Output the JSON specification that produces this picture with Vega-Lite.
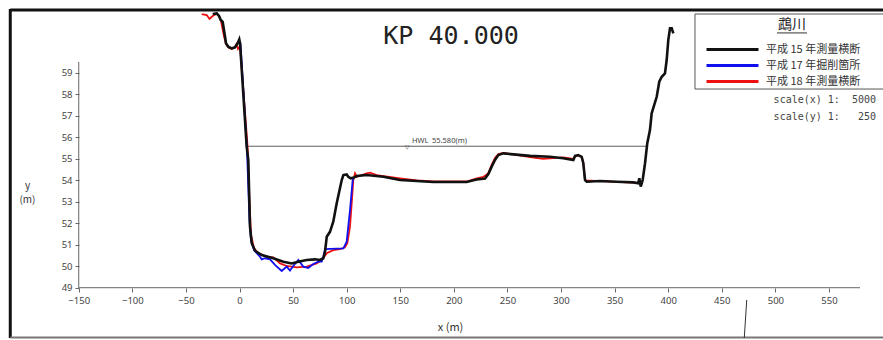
{
  "$schema": "https://vega.github.io/schema/vega-lite/v6.json",
  "width": 873,
  "height": 329,
  "autosize": {"type": "none"},
  "padding": {"left": 10, "top": 9, "right": 0, "bottom": 2},
  "background": "white",
  "config": {"view": {"stroke": null}},
  "datasets": {
    "lines": [
      {"s": "平成 18 年測量横断", "x": -35.3, "y": 61.73},
      {"s": "平成 18 年測量横断", "x": -30.6, "y": 61.68},
      {"s": "平成 18 年測量横断", "x": -28.0, "y": 61.50},
      {"s": "平成 18 年測量横断", "x": -26.1, "y": 61.59},
      {"s": "平成 18 年測量横断", "x": -23.8, "y": 61.68},
      {"s": "平成 18 年測量横断", "x": -21.0, "y": 61.75},
      {"s": "平成 18 年測量横断", "x": -18.7, "y": 61.59},
      {"s": "平成 18 年測量横断", "x": -17.3, "y": 61.40},
      {"s": "平成 18 年測量横断", "x": -14.5, "y": 60.71},
      {"s": "平成 18 年測量横断", "x": -12.6, "y": 60.33},
      {"s": "平成 18 年測量横断", "x": -9.8, "y": 60.15},
      {"s": "平成 18 年測量横断", "x": -7.0, "y": 60.10},
      {"s": "平成 18 年測量横断", "x": -4.2, "y": 60.20},
      {"s": "平成 18 年測量横断", "x": -2.8, "y": 60.33},
      {"s": "平成 18 年測量横断", "x": -1.4, "y": 60.10},
      {"s": "平成 18 年測量横断", "x": 0.5, "y": 60.24},
      {"s": "平成 18 年測量横断", "x": 7.5, "y": 55.59},
      {"s": "平成 18 年測量横断", "x": 9.3, "y": 53.08},
      {"s": "平成 18 年測量横断", "x": 10.7, "y": 51.45},
      {"s": "平成 18 年測量横断", "x": 13.5, "y": 50.85},
      {"s": "平成 18 年測量横断", "x": 17.3, "y": 50.61},
      {"s": "平成 18 年測量横断", "x": 25.4, "y": 50.44},
      {"s": "平成 18 年測量横断", "x": 31.5, "y": 50.41},
      {"s": "平成 18 年測量横断", "x": 37.8, "y": 50.13},
      {"s": "平成 18 年測量横断", "x": 44.0, "y": 50.01},
      {"s": "平成 18 年測量横断", "x": 53.4, "y": 49.95},
      {"s": "平成 18 年測量横断", "x": 62.7, "y": 49.98},
      {"s": "平成 18 年測量横断", "x": 72.0, "y": 50.13},
      {"s": "平成 18 年測量横断", "x": 76.7, "y": 50.29},
      {"s": "平成 18 年測量横断", "x": 81.4, "y": 50.60},
      {"s": "平成 18 年測量横断", "x": 87.5, "y": 50.75},
      {"s": "平成 18 年測量横断", "x": 93.8, "y": 50.79},
      {"s": "平成 18 年測量横断", "x": 98.4, "y": 50.88},
      {"s": "平成 18 年測量横断", "x": 100.6, "y": 51.07},
      {"s": "平成 18 年測量横断", "x": 103.1, "y": 51.84},
      {"s": "平成 18 年測量横断", "x": 104.7, "y": 52.93},
      {"s": "平成 18 年測量横断", "x": 106.2, "y": 54.01},
      {"s": "平成 18 年測量横断", "x": 107.8, "y": 54.32},
      {"s": "平成 18 年測量横断", "x": 109.4, "y": 54.16},
      {"s": "平成 18 年測量横断", "x": 118.7, "y": 54.32},
      {"s": "平成 18 年測量横断", "x": 121.8, "y": 54.35},
      {"s": "平成 18 年測量横断", "x": 128.0, "y": 54.24},
      {"s": "平成 18 年測量横断", "x": 149.8, "y": 54.09},
      {"s": "平成 18 年測量横断", "x": 165.3, "y": 53.99},
      {"s": "平成 18 年測量横断", "x": 180.8, "y": 53.94},
      {"s": "平成 18 年測量横断", "x": 196.4, "y": 53.94},
      {"s": "平成 18 年測量横断", "x": 212.0, "y": 53.94},
      {"s": "平成 18 年測量横断", "x": 221.3, "y": 54.08},
      {"s": "平成 18 年測量横断", "x": 227.5, "y": 54.15},
      {"s": "平成 18 年測量横断", "x": 232.2, "y": 54.33},
      {"s": "平成 18 年測量横断", "x": 235.3, "y": 54.71},
      {"s": "平成 18 年測量横断", "x": 238.4, "y": 55.03},
      {"s": "平成 18 年測量横断", "x": 241.5, "y": 55.22},
      {"s": "平成 18 年測量横断", "x": 246.2, "y": 55.27},
      {"s": "平成 18 年測量横断", "x": 255.5, "y": 55.20},
      {"s": "平成 18 年測量横断", "x": 271.1, "y": 55.08},
      {"s": "平成 18 年測量横断", "x": 283.2, "y": 54.99},
      {"s": "平成 18 年測量横断", "x": 302.1, "y": 55.06},
      {"s": "平成 18 年測量横断", "x": 311.5, "y": 54.99},
      {"s": "平成 18 年測量横断", "x": 313.1, "y": 55.10},
      {"s": "平成 18 年測量横断", "x": 316.1, "y": 55.15},
      {"s": "平成 18 年測量横断", "x": 319.3, "y": 55.08},
      {"s": "平成 18 年測量横断", "x": 320.8, "y": 54.80},
      {"s": "平成 18 年測量横断", "x": 322.4, "y": 53.99},
      {"s": "平成 18 年測量横断", "x": 336.4, "y": 53.96},
      {"s": "平成 18 年測量横断", "x": 352.0, "y": 53.92},
      {"s": "平成 18 年測量横断", "x": 367.5, "y": 53.89},
      {"s": "平成 18 年測量横断", "x": 371.9, "y": 53.87},
      {"s": "平成 17 年掘削箇所", "x": 0.9, "y": 60.37},
      {"s": "平成 17 年掘削箇所", "x": 7.0, "y": 55.40},
      {"s": "平成 17 年掘削箇所", "x": 9.3, "y": 52.15},
      {"s": "平成 17 年掘削箇所", "x": 10.7, "y": 51.22},
      {"s": "平成 17 年掘削箇所", "x": 13.5, "y": 50.75},
      {"s": "平成 17 年掘削箇所", "x": 19.1, "y": 50.44},
      {"s": "平成 17 年掘削箇所", "x": 20.7, "y": 50.32},
      {"s": "平成 17 年掘削箇所", "x": 23.8, "y": 50.37},
      {"s": "平成 17 年掘削箇所", "x": 28.5, "y": 50.32},
      {"s": "平成 17 年掘削箇所", "x": 33.1, "y": 50.06},
      {"s": "平成 17 年掘削箇所", "x": 39.4, "y": 49.78},
      {"s": "平成 17 年掘削箇所", "x": 44.0, "y": 49.98},
      {"s": "平成 17 年掘削箇所", "x": 47.1, "y": 49.80},
      {"s": "平成 17 年掘削箇所", "x": 50.2, "y": 50.01},
      {"s": "平成 17 年掘削箇所", "x": 54.9, "y": 50.29},
      {"s": "平成 17 年掘削箇所", "x": 59.5, "y": 49.98},
      {"s": "平成 17 年掘削箇所", "x": 64.2, "y": 49.92},
      {"s": "平成 17 年掘削箇所", "x": 68.9, "y": 50.10},
      {"s": "平成 17 年掘削箇所", "x": 73.5, "y": 50.21},
      {"s": "平成 17 年掘削箇所", "x": 76.7, "y": 50.21},
      {"s": "平成 17 年掘削箇所", "x": 78.2, "y": 50.44},
      {"s": "平成 17 年掘削箇所", "x": 79.8, "y": 50.79},
      {"s": "平成 17 年掘削箇所", "x": 96.9, "y": 50.83},
      {"s": "平成 17 年掘削箇所", "x": 100.0, "y": 51.14},
      {"s": "平成 17 年掘削箇所", "x": 103.1, "y": 52.61},
      {"s": "平成 17 年掘削箇所", "x": 105.6, "y": 54.01},
      {"s": "平成 17 年掘削箇所", "x": 106.8, "y": 54.13},
      {"s": "平成 15 年測量横断", "x": -25.0, "y": 61.73},
      {"s": "平成 15 年測量横断", "x": -21.3, "y": 61.76},
      {"s": "平成 15 年測量横断", "x": -19.1, "y": 61.64},
      {"s": "平成 15 年測量横断", "x": -17.5, "y": 61.45},
      {"s": "平成 15 年測量横断", "x": -15.7, "y": 61.36},
      {"s": "平成 15 年測量横断", "x": -13.5, "y": 60.67},
      {"s": "平成 15 年測量横断", "x": -12.6, "y": 60.37},
      {"s": "平成 15 年測量横断", "x": -10.5, "y": 60.21},
      {"s": "平成 15 年測量横断", "x": -7.3, "y": 60.13},
      {"s": "平成 15 年測量横断", "x": -4.2, "y": 60.18},
      {"s": "平成 15 年測量横断", "x": -1.7, "y": 60.37},
      {"s": "平成 15 年測量横断", "x": -0.2, "y": 60.55},
      {"s": "平成 15 年測量横断", "x": 0.5, "y": 60.37},
      {"s": "平成 15 年測量横断", "x": 6.7, "y": 55.56},
      {"s": "平成 15 年測量横断", "x": 8.2, "y": 54.94},
      {"s": "平成 15 年測量横断", "x": 9.8, "y": 51.84},
      {"s": "平成 15 年測量横断", "x": 11.4, "y": 51.07},
      {"s": "平成 15 年測量横断", "x": 14.5, "y": 50.72},
      {"s": "平成 15 年測量横断", "x": 20.7, "y": 50.52},
      {"s": "平成 15 年測量横断", "x": 31.5, "y": 50.37},
      {"s": "平成 15 年測量横断", "x": 40.9, "y": 50.21},
      {"s": "平成 15 年測量横断", "x": 48.7, "y": 50.13},
      {"s": "平成 15 年測量横断", "x": 54.9, "y": 50.21},
      {"s": "平成 15 年測量横断", "x": 62.7, "y": 50.29},
      {"s": "平成 15 年測量横断", "x": 70.4, "y": 50.32},
      {"s": "平成 15 年測量横断", "x": 75.1, "y": 50.29},
      {"s": "平成 15 年測量横断", "x": 78.2, "y": 50.37},
      {"s": "平成 15 年測量横断", "x": 79.8, "y": 50.67},
      {"s": "平成 15 年測量横断", "x": 81.4, "y": 51.37},
      {"s": "平成 15 年測量横断", "x": 84.4, "y": 51.60},
      {"s": "平成 15 年測量横断", "x": 87.5, "y": 52.07},
      {"s": "平成 15 年測量横断", "x": 90.7, "y": 52.93},
      {"s": "平成 15 年測量横断", "x": 95.4, "y": 54.01},
      {"s": "平成 15 年測量横断", "x": 96.9, "y": 54.24},
      {"s": "平成 15 年測量横断", "x": 100.0, "y": 54.27},
      {"s": "平成 15 年測量横断", "x": 101.5, "y": 54.16},
      {"s": "平成 15 年測量横断", "x": 103.8, "y": 54.09},
      {"s": "平成 15 年測量横断", "x": 106.8, "y": 54.12},
      {"s": "平成 15 年測量横断", "x": 109.4, "y": 54.20},
      {"s": "平成 15 年測量横断", "x": 118.7, "y": 54.24},
      {"s": "平成 15 年測量横断", "x": 134.2, "y": 54.16},
      {"s": "平成 15 年測量横断", "x": 149.8, "y": 54.01},
      {"s": "平成 15 年測量横断", "x": 165.3, "y": 53.96},
      {"s": "平成 15 年測量横断", "x": 180.8, "y": 53.92},
      {"s": "平成 15 年測量横断", "x": 196.4, "y": 53.92},
      {"s": "平成 15 年測量横断", "x": 212.0, "y": 53.92},
      {"s": "平成 15 年測量横断", "x": 221.3, "y": 54.03},
      {"s": "平成 15 年測量横断", "x": 229.1, "y": 54.08},
      {"s": "平成 15 年測量横断", "x": 232.2, "y": 54.29},
      {"s": "平成 15 年測量横断", "x": 235.3, "y": 54.63},
      {"s": "平成 15 年測量横断", "x": 238.4, "y": 54.94},
      {"s": "平成 15 年測量横断", "x": 241.5, "y": 55.17},
      {"s": "平成 15 年測量横断", "x": 246.2, "y": 55.25},
      {"s": "平成 15 年測量横断", "x": 255.5, "y": 55.20},
      {"s": "平成 15 年測量横断", "x": 271.1, "y": 55.13},
      {"s": "平成 15 年測量横断", "x": 289.7, "y": 55.09},
      {"s": "平成 15 年測量横断", "x": 302.1, "y": 55.02},
      {"s": "平成 15 年測量横断", "x": 311.5, "y": 54.94},
      {"s": "平成 15 年測量横断", "x": 313.1, "y": 55.13},
      {"s": "平成 15 年測量横断", "x": 316.1, "y": 55.17},
      {"s": "平成 15 年測量横断", "x": 319.3, "y": 55.09},
      {"s": "平成 15 年測量横断", "x": 320.8, "y": 54.79},
      {"s": "平成 15 年測量横断", "x": 322.4, "y": 54.01},
      {"s": "平成 15 年測量横断", "x": 324.0, "y": 53.93},
      {"s": "平成 15 年測量横断", "x": 336.4, "y": 53.96},
      {"s": "平成 15 年測量横断", "x": 352.0, "y": 53.93},
      {"s": "平成 15 年測量横断", "x": 367.5, "y": 53.90},
      {"s": "平成 15 年測量横断", "x": 372.1, "y": 53.86},
      {"s": "平成 15 年測量横断", "x": 373.1, "y": 54.09},
      {"s": "平成 15 年測量横断", "x": 374.4, "y": 53.70},
      {"s": "平成 15 年測量横断", "x": 376.2, "y": 54.01},
      {"s": "平成 15 年測量横断", "x": 378.4, "y": 54.79},
      {"s": "平成 15 年測量横断", "x": 380.5, "y": 55.72},
      {"s": "平成 15 年測量横断", "x": 383.0, "y": 56.33},
      {"s": "平成 15 年測量横断", "x": 384.6, "y": 57.11},
      {"s": "平成 15 年測量横断", "x": 389.3, "y": 57.88},
      {"s": "平成 15 年測量横断", "x": 391.7, "y": 58.58},
      {"s": "平成 15 年測量横断", "x": 394.0, "y": 58.81},
      {"s": "平成 15 年測量横断", "x": 397.0, "y": 58.97},
      {"s": "平成 15 年測量横断", "x": 398.6, "y": 59.59},
      {"s": "平成 15 年測量横断", "x": 400.1, "y": 60.52},
      {"s": "平成 15 年測量横断", "x": 401.7, "y": 61.07},
      {"s": "平成 15 年測量横断", "x": 403.3, "y": 61.07},
      {"s": "平成 15 年測量横断", "x": 404.8, "y": 60.83}
    ]
  },
  "encoding": {
    "x": {
      "field": "x", "type": "quantitative",
      "scale": {"domain": [-214.15, 600.45], "nice": false, "zero": false},
      "axis": {
        "values": [-150, -100, -50, 0, 50, 100, 150, 200, 250, 300, 350, 400, 450, 500, 550],
        "offset": -50, "domain": false, "grid": false,
        "tickSize": 4, "tickColor": "#666", "tickWidth": 1,
        "labelFont": "Noto Sans", "labelFontSize": 9.5, "labelColor": "#444",
        "labelPadding": 3, "labelFlush": false, "labelOverlap": false, "labelBound": false,
        "title": "x (m)", "titleFont": "Noto Sans CJK JP", "titleFontSize": 11,
        "titleFontWeight": "normal", "titleColor": "#333",
        "titleX": 440, "titleY": 39, "titleBaseline": "middle", "titleAnchor": null, "titleAlign": "center"
      }
    },
    "y": {
      "field": "y", "type": "quantitative",
      "scale": {"domain": [46.661, 61.963], "nice": false, "zero": false},
      "axis": {
        "values": [49, 50, 51, 52, 53, 54, 55, 56, 57, 58, 59],
        "offset": -69, "domain": false, "grid": false,
        "tickSize": 4, "tickColor": "#666", "tickWidth": 1,
        "labelFont": "Noto Sans", "labelFontSize": 9.5, "labelColor": "#444",
        "labelPadding": 3, "labelFlush": false, "labelOverlap": false, "labelBound": false,
        "title": ["y", "(m)"], "titleFont": "Noto Sans CJK JP", "titleFontSize": 10,
        "titleFontWeight": "normal", "titleColor": "#333", "titleAngle": 0,
        "titleX": -52, "titleY": 176, "titleAlign": "center", "titleBaseline": "middle",
        "titleLineHeight": 14, "titleAnchor": null
      }
    }
  },
  "layer": [
    {
      "data": {"values": [{"x": -213.9, "x2": 600.45, "y": 61.916, "y2": 61.916}]},
      "mark": {"type": "rule", "color": "#111", "strokeWidth": 3},
      "encoding": {"x2": {"field": "x2"}, "y2": {"field": "y2"}}
    },
    {
      "data": {"values": [{"x": -213.9, "x2": -213.9, "y": 46.661, "y2": 61.963}]},
      "mark": {"type": "rule", "color": "#111", "strokeWidth": 3},
      "encoding": {"x2": {"field": "x2"}, "y2": {"field": "y2"}}
    },
    {
      "data": {"values": [{"x": -213.9, "x2": 600.45, "y": 46.684, "y2": 46.684}]},
      "mark": {"type": "rule", "color": "#777", "strokeWidth": 2},
      "encoding": {"x2": {"field": "x2"}, "y2": {"field": "y2"}}
    },
    {
      "data": {"values": [
        {"x": -150, "x2": 579, "y": 49, "y2": 49},
        {"x": -150, "x2": -150, "y": 49, "y2": 59.5}
      ]},
      "mark": {"type": "rule", "color": "#666", "strokeWidth": 1},
      "encoding": {"x2": {"field": "x2"}, "y2": {"field": "y2"}}
    },
    {
      "data": {"values": [{"x": 6, "x2": 381, "y": 55.58, "y2": 55.58}]},
      "mark": {"type": "rule", "color": "#333", "strokeWidth": 0.8},
      "encoding": {"x2": {"field": "x2"}, "y2": {"field": "y2"}}
    },
    {
      "data": {"values": [{"x": 473.3, "x2": 471.0, "y": 48.43, "y2": 46.66}]},
      "mark": {"type": "rule", "color": "#333", "strokeWidth": 1},
      "encoding": {"x2": {"field": "x2"}, "y2": {"field": "y2"}}
    },
    {
      "data": {"values": [{"x": 425.0, "x2": 620, "y": 61.73, "y2": 58.24}]},
      "mark": {"type": "rect", "fill": "white", "stroke": "#555", "strokeWidth": 1},
      "encoding": {"x2": {"field": "x2"}, "y2": {"field": "y2"}}
    },
    {
      "data": {"values": [{"x": 501.5, "x2": 529.5, "y": 60.85, "y2": 60.85}]},
      "mark": {"type": "rule", "color": "#333", "strokeWidth": 1},
      "encoding": {"x2": {"field": "x2"}, "y2": {"field": "y2"}}
    },
    {
      "data": {"values": [{"x": 515.5, "y": 61.22, "t": "鵡川"}]},
      "mark": {"type": "text", "font": "Noto Sans CJK JP", "fontSize": 14, "color": "#222", "align": "center", "baseline": "middle"},
      "encoding": {"text": {"field": "t"}}
    },
    {
      "data": {"name": "lines"},
      "transform": [{"filter": "datum.s === '平成 18 年測量横断'"}],
      "mark": {"type": "line", "strokeWidth": 1.8},
      "encoding": {
        "color": {
          "field": "s", "type": "nominal",
          "scale": {"domain": ["平成 15 年測量横断", "平成 17 年掘削箇所", "平成 18 年測量横断"], "range": ["#111111", "#1010ee", "#ee1010"]},
          "legend": {
            "orient": "none", "legendX": 689, "legendY": 28,
            "title": null,
            "labelFont": "Noto Sans CJK JP", "labelFontSize": 11, "labelColor": "#333",
            "symbolType": "M-1,0H9.4", "symbolSize": 100, "symbolStrokeWidth": 3,
            "labelOffset": 48, "rowPadding": 3, "padding": 6
          }
        }
      }
    },
    {
      "data": {"name": "lines"},
      "transform": [{"filter": "datum.s === '平成 17 年掘削箇所'"}],
      "mark": {"type": "line", "strokeWidth": 1.8},
      "encoding": {"color": {"field": "s", "type": "nominal"}}
    },
    {
      "data": {"name": "lines"},
      "transform": [{"filter": "datum.s === '平成 15 年測量横断'"}],
      "mark": {"type": "line", "strokeWidth": 2.6},
      "encoding": {"color": {"field": "s", "type": "nominal"}}
    },
    {
      "data": {"values": [{"x": 197.4, "y": 60.71, "t": "KP 40.000"}]},
      "mark": {"type": "text", "font": "DejaVu Sans Mono", "fontSize": 25, "color": "#222", "align": "center", "baseline": "middle"},
      "encoding": {"text": {"field": "t"}}
    },
    {
      "data": {"values": [{"x": 161.0, "y": 55.82, "t": "HWL"}, {"x": 179.6, "y": 55.82, "t": "55.580(m)"}]},
      "mark": {"type": "text", "font": "Noto Sans", "fontSize": 7.5, "color": "#444", "align": "left", "baseline": "middle"},
      "encoding": {"text": {"field": "t"}}
    },
    {
      "data": {"values": [{"x": 156.3, "y": 55.55, "t": "▽"}]},
      "mark": {"type": "text", "font": "DejaVu Sans", "fontSize": 6, "color": "#444", "align": "center", "baseline": "middle"},
      "encoding": {"text": {"field": "t"}}
    },
    {
      "data": {"values": [
        {"x": 593.9, "y": 57.73, "t": "scale(x) 1:\u00a0\u00a05000"},
        {"x": 593.9, "y": 56.94, "t": "scale(y) 1:\u00a0\u00a0\u00a0250"}
      ]},
      "mark": {"type": "text", "font": "DejaVu Sans Mono", "fontSize": 10, "color": "#444", "align": "right", "baseline": "middle"},
      "encoding": {"text": {"field": "t"}}
    }
  ]
}
